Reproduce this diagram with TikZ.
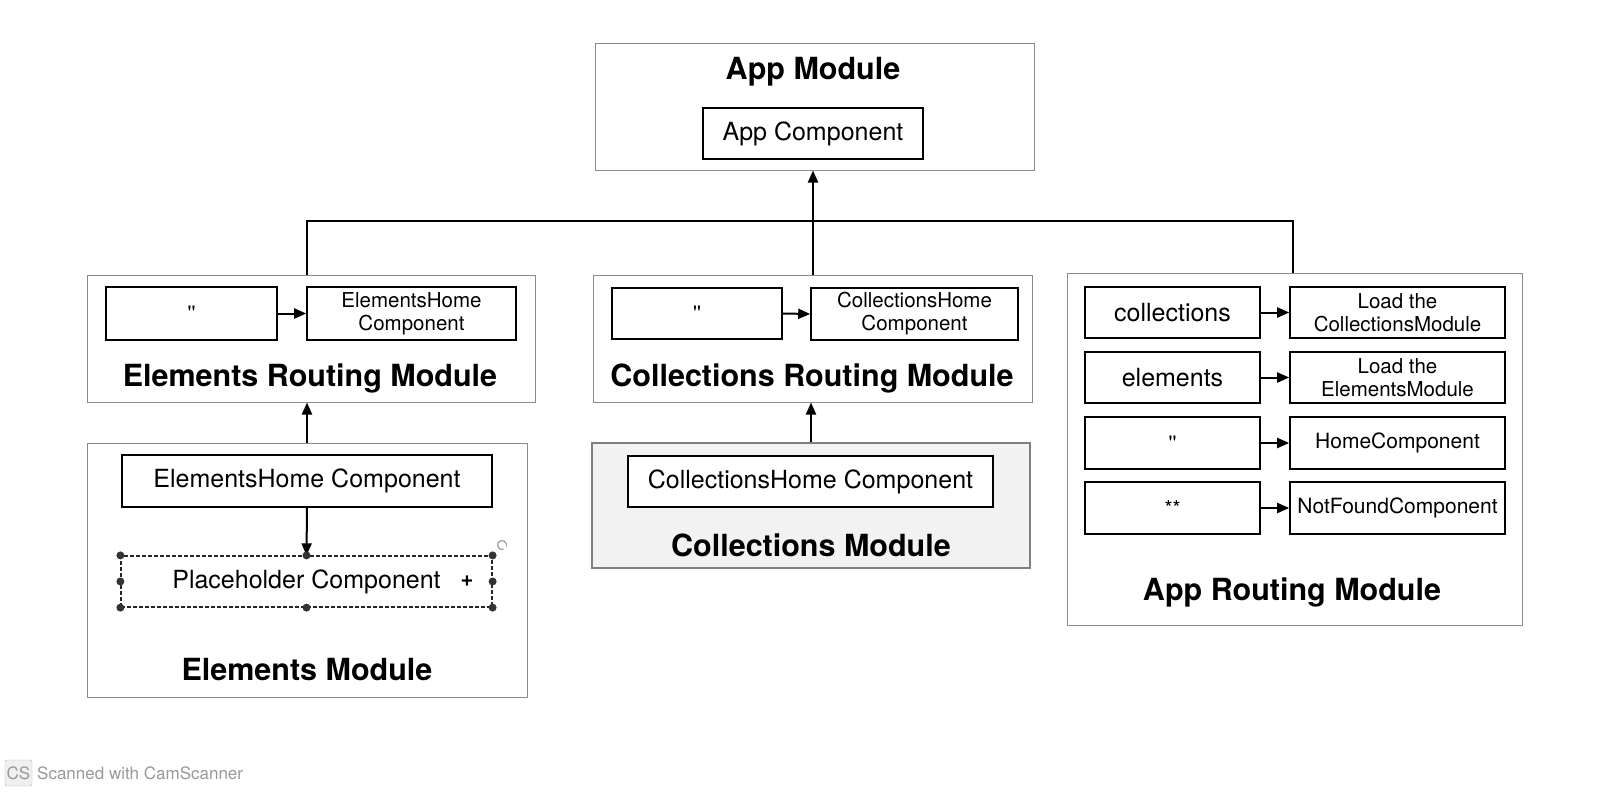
\documentclass[tikz,border=0pt]{standalone}
\usepackage{fontspec}
\setmainfont{TeX Gyre Heros}
\newfontfamily\rawf{TeX Gyre Heros}[Ligatures=TeXOff]
\usetikzlibrary{arrows.meta}
\begin{document}
\begin{tikzpicture}[x=1pt,y=-1pt,
 modbox/.style={draw=black!45, line width=1pt, fill=white, inner sep=0pt},
 cbox/.style={draw=black, line width=1.6pt, fill=white, inner sep=0pt, align=center},
 title/.style={font=\bfseries\fontsize{30.5}{36}\selectfont, inner sep=0pt},
 lab/.style={font=\fontsize{25}{30}\selectfont},
 sml/.style={font=\fontsize{20.5}{23}\selectfont},
 conn/.style={line width=2pt, draw=black},
 arr/.style={conn, -{Triangle[length=12pt,width=10pt]}},
 hdot/.style={circle, fill=black!80, inner sep=0pt, minimum size=8pt},
]
\useasboundingbox[fill=white] (0,0) rectangle (1600,792);

% App Module
\node[modbox, minimum width=439pt, minimum height=126pt] (appmod) at (814.5,107) {};
\node[title] (appmodt) at (813,72) {App Module};
\node[cbox, lab, minimum width=220pt, minimum height=51pt] (appcomp) at (813,133.5) {App Component};

% Elements Routing Module
\node[modbox, minimum width=448pt, minimum height=127pt] (elrm) at (311,338.5) {};
\node[cbox, sml, minimum width=171pt, minimum height=53pt] (elq) at (191.5,313.5) {\rawf ''};
\node[cbox, sml, minimum width=209pt, minimum height=53pt] (elhc) at (411.5,313.5) {ElementsHome\\Component};
\node[title] (elrmt) at (310,378) {Elements Routing Module};

% Elements Module
\node[modbox, minimum width=440pt, minimum height=254pt] (elmod) at (307,570) {};
\node[cbox, lab, minimum width=370pt, minimum height=52pt] (elhome) at (307,481) {ElementsHome Component};
\node[draw=black!85, line width=1.2pt, dash pattern=on 4pt off 2pt, fill=white, lab, minimum width=371pt, minimum height=51pt, inner sep=0pt] (ph) at (306.5,581.5) {Placeholder Component};
\node[inner sep=0pt, font=\bfseries\fontsize{22}{24}\selectfont] (phplus) at (467,581) {+};
\node[title] (elmodt) at (307,670) {Elements Module};

% Collections Routing Module
\node[modbox, minimum width=439pt, minimum height=127pt] (colrm) at (812.5,338.5) {};
\node[cbox, sml, minimum width=170pt, minimum height=51pt] (colq) at (697,313.5) {\rawf ''};
\node[cbox, sml, minimum width=207pt, minimum height=52pt] (colhc) at (914.5,314) {CollectionsHome\\Component};
\node[title] (colrmt) at (812,378) {Collections Routing Module};

% Collections Module
\node[modbox, draw=black!50, line width=1.5pt, fill=black!5, minimum width=438pt, minimum height=125pt] (colmod) at (811,505.5) {};
\node[cbox, lab, minimum width=365pt, minimum height=51pt] (colhome) at (810.5,481.5) {CollectionsHome Component};
\node[title] (colmodt) at (811,545) {Collections Module};

% App Routing Module
\node[modbox, minimum width=455pt, minimum height=352pt] (armod) at (1294.5,449) {};
\node[cbox, lab, minimum width=175pt, minimum height=51pt] (r1l) at (1172.5,312.5) {collections};
\node[cbox, sml, minimum width=215pt, minimum height=51pt] (r1r) at (1397.5,312.5) {Load the\\CollectionsModule};
\node[cbox, lab, minimum width=175pt, minimum height=51pt] (r2l) at (1172.5,377.5) {elements};
\node[cbox, sml, minimum width=215pt, minimum height=51pt] (r2r) at (1397.5,377.5) {Load the\\ElementsModule};
\node[cbox, sml, minimum width=175pt, minimum height=52pt] (r3l) at (1172.5,443) {\rawf ''};
\node[cbox, font=\fontsize{21}{24}\selectfont, minimum width=215pt, minimum height=52pt] (r3r) at (1397.5,443) {HomeComponent};
\node[cbox, sml, minimum width=175pt, minimum height=52pt] (r4l) at (1172.5,508) {**};
\node[cbox, font=\fontsize{21}{24}\selectfont, minimum width=215pt, minimum height=52pt] (r4r) at (1397.5,508) {NotFoundComponent};
\node[title] (armodt) at (1292,592) {App Routing Module};

% bus coordinates
\coordinate (busL) at (307,221);
\coordinate (busC) at (813,221);
\coordinate (busR) at (1293,221);

% connectors
\draw[conn] (busL |- elrm.north) -- (busL) -- (busR) -- (busR |- armod.north);
\draw[conn] (colrm.north) -- (colrm.north |- busC);
\draw[arr] (busC) -- (busC |- appmod.south);
\draw[arr] (elmod.north) -- (elmod.north |- elrm.south);
\draw[arr] (colmod.north) -- (colmod.north |- colrm.south);
\draw[arr] (elhome.south) -- (ph.north);
\draw[arr] (elq.east) -- (elhc.west);
\draw[arr] (colq.east) -- (colhc.west);
\draw[arr] (r1l.east) -- (r1r.west);
\draw[arr] (r2l.east) -- (r2r.west);
\draw[arr] (r3l.east) -- (r3r.west);
\draw[arr] (r4l.east) -- (r4r.west);

% selection handles
\foreach \a in {north west,north,north east,west,east,south west,south,south east}
  \node[hdot] at (ph.\a) {};
\draw[black!50, line width=0.9pt] (502,545) ++(70:4.5) arc (70:380:4.5);

% watermark
\node[draw=black!30, fill=black!6, rounded corners=2pt, minimum width=27pt, minimum height=26pt, inner sep=0pt, text=black!40, font=\fontsize{17}{20}\selectfont] (cslogo) at (18.5,773) {CS};
\node[anchor=west, inner sep=0pt, text=black!40, font=\fontsize{17}{20}\selectfont] (cstext) at (37,773) {Scanned with CamScanner};
\end{tikzpicture}
\end{document}
